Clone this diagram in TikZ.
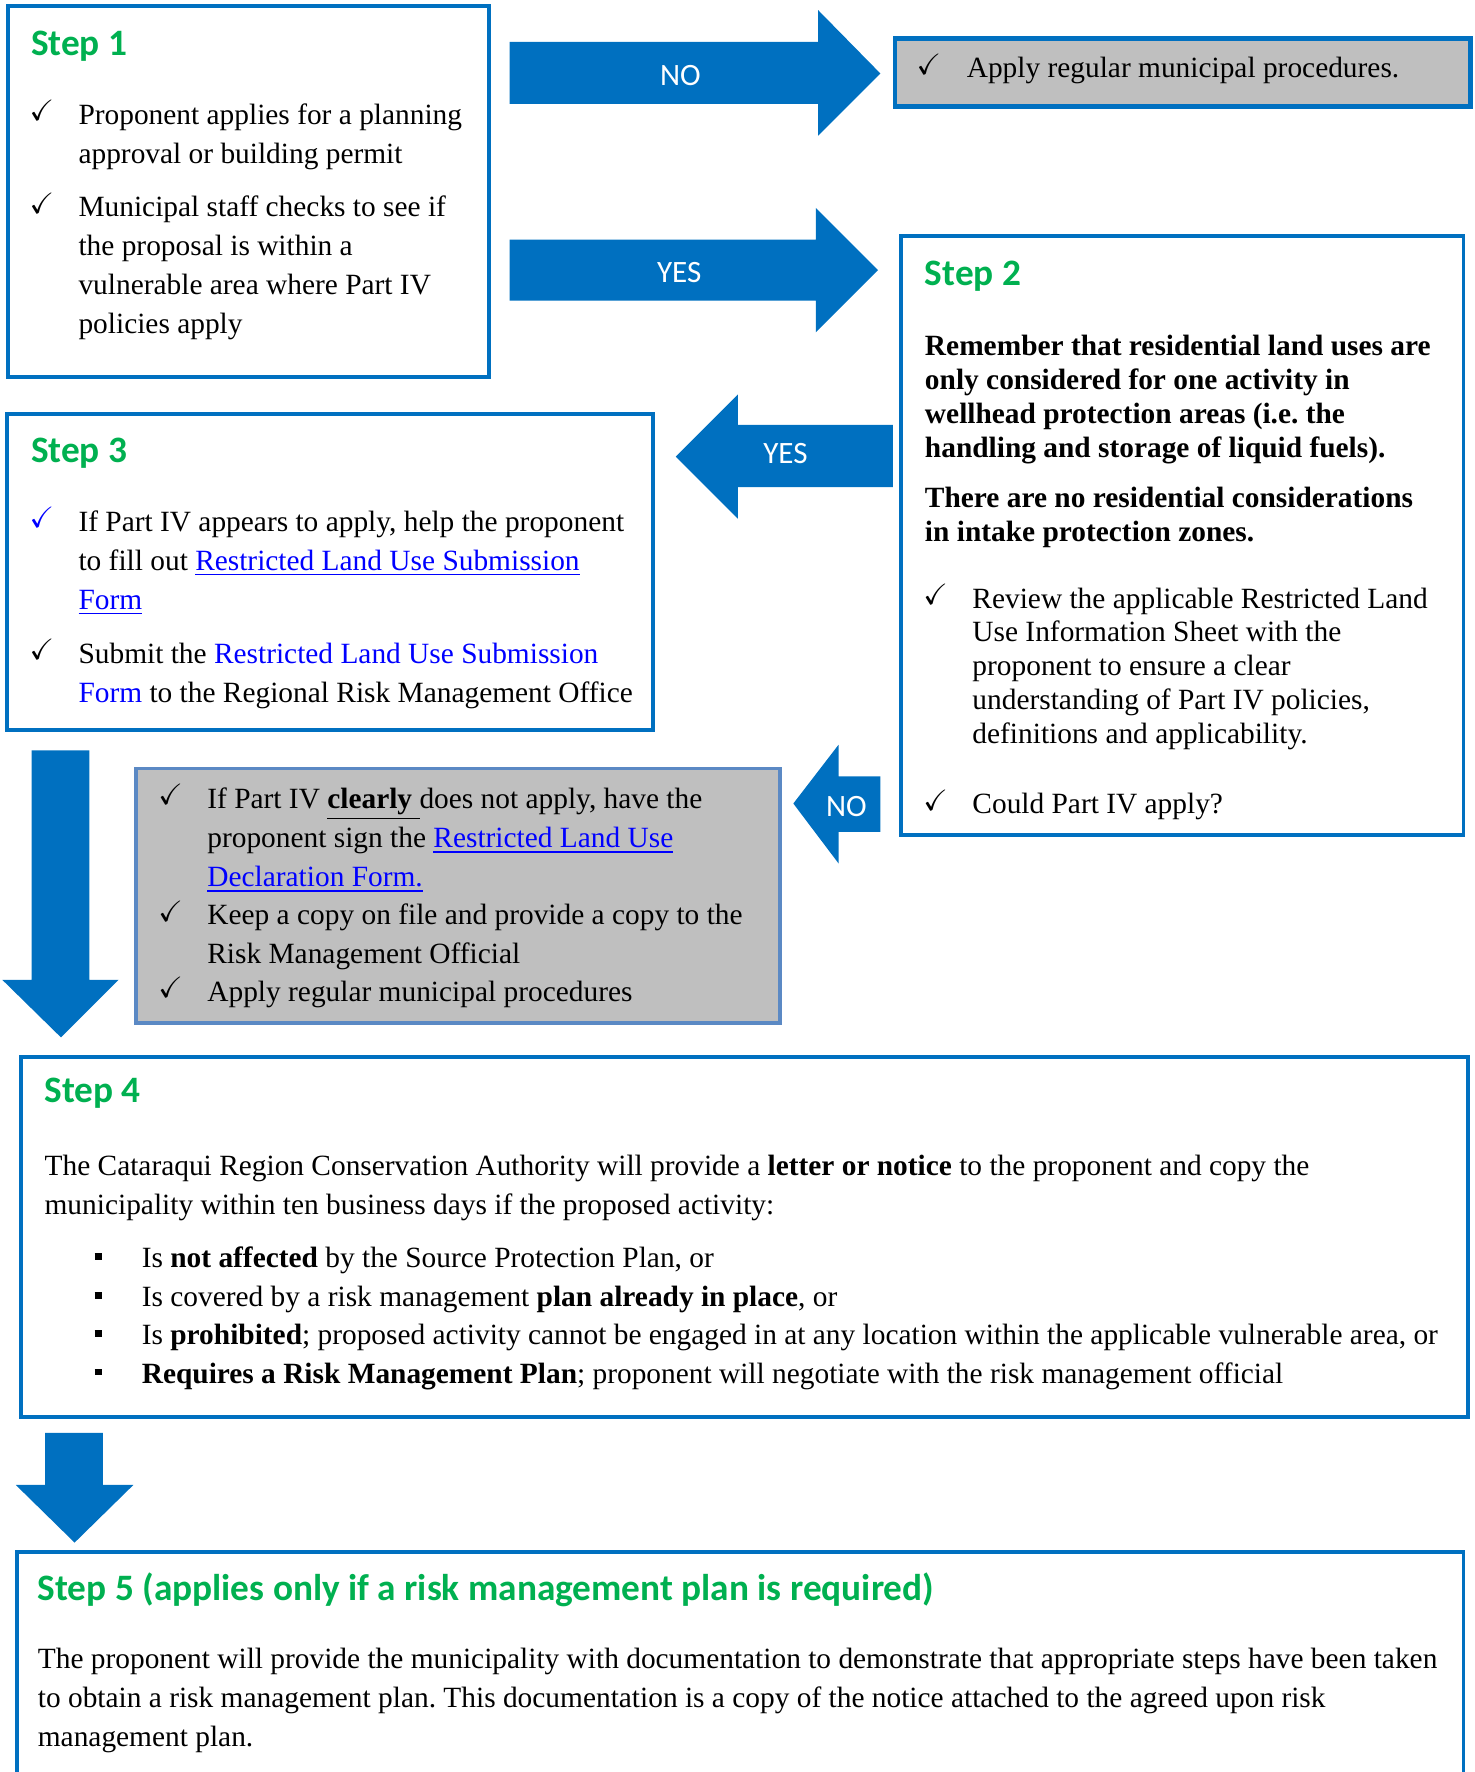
\documentclass[tikz,border=0pt]{standalone}
\usepackage{fontspec}
\setmainfont{Liberation Serif}
\newfontfamily\calibri{Carlito}
\usepackage{amssymb}
\usepackage{xcolor}
\usetikzlibrary{positioning}
\frenchspacing

\definecolor{boxblue}{HTML}{0070C0}
\definecolor{greyblue}{HTML}{5B89C4}
\definecolor{stepgreen}{HTML}{00B050}
\definecolor{boxgrey}{HTML}{BFBFBF}
\definecolor{linkblue}{HTML}{0000FF}

\newcommand{\lns}[1]{\begin{tabular}[t]{@{}l@{}}#1\end{tabular}}
\newcommand{\lnk}[1]{\textcolor{linkblue}{\underline{#1}}}
\newcommand{\sqbul}{\rule[1.6pt]{2.6pt}{2.4pt}}

\tikzset{
  stepbox/.style={draw=boxblue, line width=1.4pt},
  greybox/.style={draw=greyblue, fill=boxgrey, line width=1.4pt},
  topbox/.style={draw=boxblue, fill=boxgrey, line width=1.7pt},
  blockarrow/.style={fill=boxblue},
  steptitle/.style={anchor=base west, inner sep=0, text=stepgreen, font=\calibri\bfseries\fontsize{13.2}{16}\selectfont},
  arrowlabel/.style={inner sep=0, text=white, font=\calibri\fontsize{11}{13}\selectfont},
  txt/.style={anchor=base west, inner sep=0},
  tick/.style={anchor=base, inner sep=0, yshift=1.2pt},
}

\begin{document}
\begin{tikzpicture}[x=0.4pt, y=-0.4pt, font=\fontsize{10.4}{13.8}\selectfont]
    \useasboundingbox (0,0) rectangle (1305,1568);

    % Ramki
    \draw[stepbox] (7,5) rectangle (433,334);
    \draw[topbox] (792,34) rectangle (1301,94);
    \draw[stepbox] (797,209) rectangle (1295,739);
    \draw[stepbox] (6,366) rectangle (578,646);
    \draw[greybox] (120,680) rectangle (690,905);
    \draw[stepbox] (19,935) rectangle (1299,1254);
    \draw[stepbox] (15,1580) -- (15,1373) -- (1295,1373) -- (1295,1580);

    % Strzalki
    \fill[blockarrow] (451,37) -- (724,37) -- (724,9) -- (779,65) -- (724,120) -- (724,92) -- (451,92) -- cycle;
    \fill[blockarrow] (451,212) -- (722,212) -- (722,184) -- (777,239) -- (722,294) -- (722,266) -- (451,266) -- cycle;
    \fill[blockarrow] (790,376) -- (653,376) -- (653,349) -- (598,404) -- (653,459) -- (653,431) -- (790,431) -- cycle;
    \fill[blockarrow] (779,687) -- (742,687) -- (742,659) -- (702,711) -- (742,764) -- (742,736) -- (779,736) -- cycle;
    \fill[blockarrow] (28,664) -- (79,664) -- (79,867) -- (105,867) -- (54,918) -- (2,867) -- (28,867) -- cycle;
    \fill[blockarrow] (40,1268) -- (91,1268) -- (91,1314) -- (118,1314) -- (66,1365) -- (14,1314) -- (40,1314) -- cycle;

    \node[arrowlabel] (no1) at (602,67) {NO};
    \node[arrowlabel] (yes1) at (601,241) {YES};
    \node[arrowlabel] (yes2) at (695,401) {YES};
    \node[arrowlabel] (no2) at (749,714) {NO};

    % Step 1
    \node[steptitle] (s1title) at (27,49) {Step 1};
    \node[tick] (s1tick1) at (37,110) {\checkmark};
    \node[txt] (s1item1) at (69,110) {\lns{Proponent applies for a planning\\approval or building permit}};
    \node[tick] (s1tick2) at (37,192) {\checkmark};
    \node[txt] (s1item2) at (69,192) {\lns{Municipal staff checks to see if\\the proposal is within a\\vulnerable area where Part IV\\policies apply}};

    % regular procedures
    \node[tick] (toptick) at (822,69) {\checkmark};
    \node[txt] (topitem) at (855,69) {Apply regular municipal procedures.};

    % Step 2
    \node[steptitle] (s2title) at (818,253) {Step 2};
    \node[txt, font=\bfseries\fontsize{10.4}{12}\selectfont] (s2note1) at (818,315)
        {\lns{Remember that residential land uses are\\only considered for one activity in\\wellhead protection areas (i.e. the\\handling and storage of liquid fuels).}};
    \node[txt, font=\bfseries\fontsize{10.4}{12}\selectfont] (s2note2) at (818,449)
        {\lns{There are no residential considerations\\in intake protection zones.}};
    \node[tick] (s2tick1) at (828,538) {\checkmark};
    \node[txt, font=\fontsize{10.4}{12}\selectfont] (s2item1) at (860,538)
        {\lns{Review the applicable Restricted Land\\Use Information Sheet with the\\proponent to ensure a clear\\understanding of Part IV policies,\\definitions and applicability.}};
    \node[tick] (s2tick2) at (828,720) {\checkmark};
    \node[txt] (s2item2) at (860,720) {Could Part IV apply?};

    % Step 3
    \node[steptitle] (s3title) at (27,409) {Step 3};
    \node[tick, text=linkblue] (s3tick1) at (37,470) {\checkmark};
    \node[txt] (s3item1) at (69,470)
        {\lns{If Part IV appears to apply, help the proponent\\to fill out \lnk{Restricted Land Use Submission}\\\lnk{Form}}};
    \node[tick] (s3tick2) at (37,587) {\checkmark};
    \node[txt] (s3item2) at (69,587)
        {\lns{Submit the \textcolor{linkblue}{Restricted Land Use Submission}\\\textcolor{linkblue}{Form} to the Regional Risk Management Office}};

    % does not apply
    \node[tick] (gtick1) at (151,715) {\checkmark};
    \node[txt] (gitem1) at (183,715)
        {\lns{If Part IV \underline{\textbf{clearly}\ }does not apply, have the\\proponent sign the \lnk{Restricted Land Use}\\\lnk{Declaration Form.}}};
    \node[tick] (gtick2) at (151,818) {\checkmark};
    \node[txt] (gitem2) at (183,818) {\lns{Keep a copy on file and provide a copy to the\\Risk Management Official}};
    \node[tick] (gtick3) at (151,886) {\checkmark};
    \node[txt] (gitem3) at (183,886) {Apply regular municipal procedures};

    % Step 4
    \node[steptitle] (s4title) at (39,976) {Step 4};
    \node[txt] (s4text) at (39,1040)
        {\lns{The Cataraqui Region Conservation Authority will provide a \textbf{letter or notice} to the proponent and copy the\\municipality within ten business days if the proposed activity:}};
    \node[tick] (s4bul1) at (87,1122) {\sqbul};
    \node[txt] (s4item1) at (125,1122) {Is \textbf{not affected} by the Source Protection Plan, or};
    \node[tick] (s4bul2) at (87,1156) {\sqbul};
    \node[txt] (s4item2) at (125,1156) {Is covered by a risk management \textbf{plan already in place}, or};
    \node[tick] (s4bul3) at (87,1190) {\sqbul};
    \node[txt] (s4item3) at (125,1190) {Is \textbf{prohibited}; proposed activity cannot be engaged in at any location within the applicable vulnerable area, or};
    \node[tick] (s4bul4) at (87,1224) {\sqbul};
    \node[txt] (s4item4) at (125,1224) {\textbf{Requires a Risk Management Plan}; proponent will negotiate with the risk management official};

    % Step 5
    \node[steptitle] (s5title) at (33,1416) {Step 5 (applies only if a risk management plan is required)};
    \node[txt] (s5text) at (33,1476)
        {\lns{The proponent will provide the municipality with documentation to demonstrate that appropriate steps have been taken\\to obtain a risk management plan. This documentation is a copy of the notice attached to the agreed upon risk\\management plan.}};

\end{tikzpicture}
\end{document}
